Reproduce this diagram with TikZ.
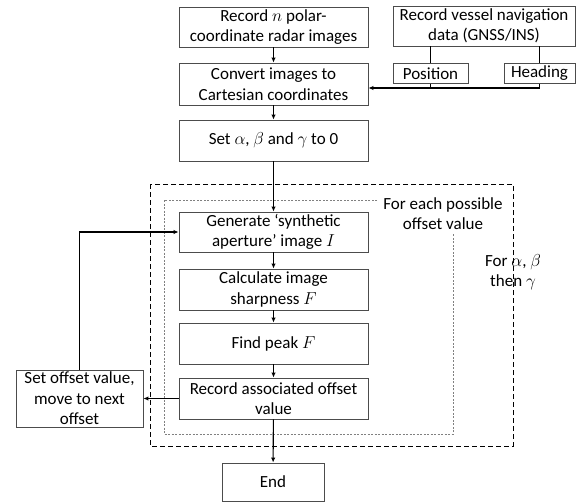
\documentclass[tikz,border=0pt]{standalone}
\usepackage{fontspec}
\setmainfont{Carlito}
\usetikzlibrary{arrows.meta}
\begin{document}
\begin{tikzpicture}[x=1pt,y=-1pt,
  every node/.style={font=\fontsize{17}{20.5}\selectfont, align=center, inner sep=0pt},
  box/.style={draw=black!70, line width=0.9pt, minimum width=189pt, minimum height=41pt},
  arr/.style={line width=1.1pt, -{Latex[length=5pt,width=4.5pt]}},
  ln/.style={line width=1.1pt},
  outerbox/.style={draw=black, line width=0.8pt, dash pattern=on 5pt off 3pt},
  innerbox/.style={draw=black!50, line width=1pt, dash pattern=on 2pt off 1.5pt}]
\useasboundingbox (0,0) rectangle (584,503);
% dashed frames
\draw[outerbox] (150,184) rectangle (513,446);
\draw[innerbox] (164,200) rectangle (453,434);
\node[fill=white, minimum width=128pt, minimum height=38pt] (lblin) at (443,213.5) {For each possible\\offset value};
\node (lblout) at (513,272) {For $\alpha$, $\beta$\\then $\gamma$};
% boxes
\node[box, minimum height=40pt] (rec) at (273.5,27) {Record $n$ polar-\\coordinate radar images};
\node[box, minimum width=182pt, minimum height=40pt] (nav) at (484,26) {Record vessel navigation\\data (GNSS/INS)};
\node[box, minimum width=75pt, minimum height=20pt] (pos) at (430.5,73.5) {Position};
\node[box, minimum width=71pt, minimum height=20pt] (head) at (539.5,73.5) {Heading};
\node[box, minimum height=42pt] (conv) at (273.5,84) {Convert images to\\Cartesian coordinates};
\node[box] (setz) at (273.5,140.5) {Set $\alpha$, $\beta$ and $\gamma$ to 0};
\node[box, minimum height=40pt] (gen) at (273.5,232) {Generate ‘synthetic\\aperture’ image $I$};
\node[box] (calc) at (273.5,289.5) {Calculate image\\sharpness $F$};
\node[box] (find) at (273.5,343.5) {Find peak $F$};
\node[box] (recoff) at (273.5,398.5) {Record associated offset\\value};
\node[box, minimum width=127pt, minimum height=57pt] (setoff) at (79.5,398.5) {Set offset value,\\move to next\\offset};
\node[box, minimum width=102pt, minimum height=38pt] (endn) at (273,482) {End};
% connectors
\draw[arr] (rec) -- (conv);
\draw[ln] (pos.north |- nav.south) -- (pos.north);
\draw[ln] (head.north |- nav.south) -- (head.north);
\coordinate (busR) at (539.5,88);
\draw[ln] (pos.south) -- (pos.south |- busR);
\draw[arr] (head.south) -- (busR) -- (busR -| conv.east);
\draw[arr] (conv) -- (setz);
\draw[arr] (setz) -- (gen);
\draw[arr] (gen) -- (calc);
\draw[arr] (calc) -- (find);
\draw[arr] (find) -- (recoff);
\draw[arr] (recoff) -- (setoff);
\draw[arr] (setoff.north) |- (gen.west);
\draw[arr] (recoff) -- (endn);
\end{tikzpicture}
\end{document}
